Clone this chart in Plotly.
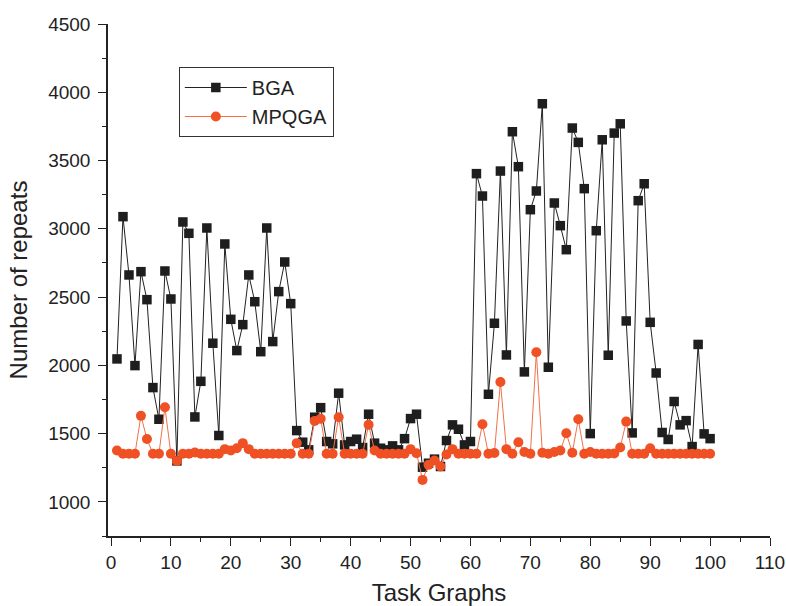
import plotly.graph_objects as go

task_graphs = list(range(1, 101))

bga = [2047, 3089, 2662, 1998, 2686, 2481, 1837, 1605, 2691, 2486,
       1300, 3050, 2967, 1622, 1883, 3006, 2162, 1486, 2889, 2337,
       2108, 2298, 2662, 2466, 2100, 3006, 2174, 2540, 2757, 2452,
       1522, 1437, 1381, 1620, 1690, 1442, 1425, 1796, 1417, 1442,
       1459, 1398, 1642, 1430, 1393, 1381, 1410, 1381, 1463, 1610,
       1642, 1254, 1283, 1313, 1259, 1449, 1564, 1532, 1417, 1442,
       3404, 3240, 1788, 2308, 3423, 2076, 3711, 3455, 1952, 3140,
       3277, 3916, 1986, 3189, 3023, 2847, 3738, 3633, 3294, 1500,
       2986, 3652, 2074, 3701, 3769, 2325, 1505, 3206, 3330, 2315,
       1944, 1508, 1457, 1735, 1564, 1595, 1405, 2153, 1498, 1463]

mpqga = [1376, 1352, 1352, 1352, 1630, 1461, 1352, 1352, 1693, 1352,
         1300, 1352, 1352, 1361, 1352, 1352, 1352, 1352, 1386, 1376,
         1393, 1430, 1386, 1352, 1352, 1352, 1352, 1352, 1352, 1352,
         1430, 1352, 1352, 1593, 1608, 1352, 1352, 1620, 1352, 1352,
         1352, 1352, 1564, 1376, 1352, 1352, 1352, 1352, 1352, 1386,
         1356, 1161, 1271, 1303, 1259, 1347, 1386, 1352, 1352, 1352,
         1352, 1569, 1352, 1358, 1878, 1386, 1352, 1437, 1365, 1352,
         2096, 1360, 1352, 1365, 1376, 1503, 1360, 1605, 1352, 1365,
         1352, 1352, 1352, 1355, 1398, 1588, 1352, 1352, 1352, 1393,
         1352, 1352, 1352, 1352, 1352, 1352, 1352, 1352, 1352, 1352]

x_ticks = [0, 10, 20, 30, 40, 50, 60, 70, 80, 90, 100, 110]
y_ticks = [1000, 1500, 2000, 2500, 3000, 3500, 4000, 4500]

FONT = "Liberation Sans, Arial, sans-serif"

fig = go.Figure()
fig.add_trace(go.Scatter(
    x=task_graphs, y=bga, name="BGA", mode="lines+markers",
    line=dict(color="#222222", width=1),
    marker=dict(symbol="square", size=9.5, color="#1e1e1e"),
))
fig.add_trace(go.Scatter(
    x=task_graphs, y=mpqga, name="MPQGA", mode="lines+markers",
    line=dict(color="#f2714a", width=1),
    marker=dict(symbol="circle", size=10, color="#ef5024"),
))

fig.update_layout(
    width=786, height=606,
    margin=dict(l=108, r=16, t=24, b=70),
    paper_bgcolor="white", plot_bgcolor="white",
    font=dict(family=FONT, size=16, color="#222222"),
    showlegend=True,
    legend=dict(
        x=0.107, y=0.916, xanchor="left", yanchor="top",
        bordercolor="#333333", borderwidth=1, bgcolor="white",
        font=dict(family=FONT, size=20, color="#222222"),
        itemwidth=62, tracegroupgap=0,
    ),
    xaxis=dict(
        range=[-0.5, 110], tickvals=x_ticks, ticktext=[str(v) for v in x_ticks],
        showline=True, linecolor="#222222", linewidth=1.5,
        ticks="outside", ticklen=8, tickwidth=1.2, tickcolor="#222222",
        minor=dict(dtick=5, tick0=0, ticks="outside", ticklen=4, tickcolor="#222222", showgrid=False),
        showgrid=False, zeroline=False,
        title=dict(text="Task Graphs", font=dict(size=24), standoff=14),
        tickfont=dict(size=19),
        automargin=False,
    ),
    yaxis=dict(
        range=[750, 4500], tickvals=y_ticks, ticktext=[str(v) for v in y_ticks],
        showline=True, linecolor="#222222", linewidth=1.5,
        ticks="outside", ticklen=8, tickwidth=1.2, tickcolor="#222222",
        minor=dict(dtick=250, tick0=0, ticks="outside", ticklen=4, tickcolor="#222222", showgrid=False),
        showgrid=False, zeroline=False,
        title=dict(text="Number of repeats", font=dict(size=24), standoff=14),
        tickfont=dict(size=19),
        ticklabelstandoff=4,
        automargin=False,
    ),
)

fig.write_html("out.html")
